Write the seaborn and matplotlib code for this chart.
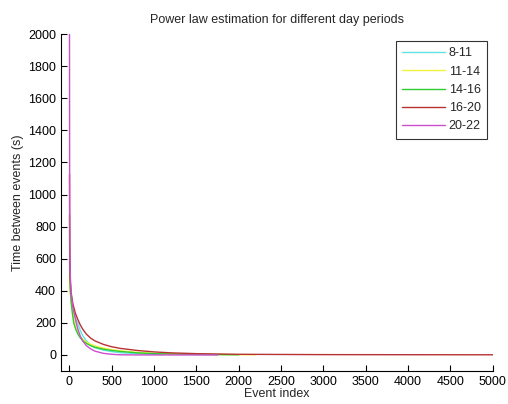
import matplotlib
matplotlib.use("Agg")
import matplotlib.pyplot as plt
import seaborn as sns
import pandas as pd

# ---- data ----
labels = ["8-11", "11-14", "14-16", "16-20", "20-22"]
colors = ["#5fe3e3", "#f2f23a", "#2ecc2e", "#b83232", "#cc4fcc"]

x_8_11 = [1, 3, 8, 20, 40, 70, 100, 130, 160, 200, 250, 300, 400, 500, 600, 800, 1000, 1100]
y_8_11 = [600, 520, 440, 360, 290, 230, 195, 150, 118, 88, 62, 45, 30, 21, 14, 8, 4, 3]

x_11_14 = [1, 3, 8, 20, 40, 60, 80, 100, 130, 160, 200, 250, 300, 400, 500, 600, 800, 1000, 1500, 2200]
y_11_14 = [500, 450, 400, 340, 260, 200, 165, 140, 115, 97, 80, 67, 57, 43, 33, 26, 16, 10, 4, 1]

x_14_16 = [1, 3, 8, 20, 35, 50, 75, 100, 130, 160, 200, 250, 300, 400, 500, 600, 800, 1000, 1500, 2000]
y_14_16 = [875, 600, 420, 330, 260, 200, 160, 130, 105, 88, 72, 58, 48, 36, 28, 22, 13, 8, 3, 1]

x_16_20 = [1, 3, 8, 20, 40, 70, 100, 130, 160, 200, 250, 300, 400, 500, 600, 800, 1000, 1200, 1500, 2000, 3000, 5000]
y_16_20 = [1125, 700, 480, 390, 320, 260, 220, 185, 158, 130, 105, 88, 66, 51, 41, 28, 19, 13, 8, 4, 2, 1]

x_20_22 = [1, 3, 8, 20, 40, 60, 80, 100, 130, 160, 200, 250, 300, 400, 500, 600, 800, 1000, 1750]
y_20_22 = [2000, 900, 520, 380, 300, 250, 200, 160, 115, 85, 58, 38, 24, 10, 4, 1, 0, 0, 0]

xs = [x_8_11, x_11_14, x_14_16, x_16_20, x_20_22]
ys = [y_8_11, y_11_14, y_14_16, y_16_20, y_20_22]

xticks = [0, 500, 1000, 1500, 2000, 2500, 3000, 3500, 4000, 4500, 5000]
yticks = [0, 200, 400, 600, 800, 1000, 1200, 1400, 1600, 1800, 2000]

rows = []
for lab, xv, yv in zip(labels, xs, ys):
    for a, b in zip(xv, yv):
        rows.append({"Event index": a, "Time": b, "Period": lab})
df = pd.DataFrame(rows)

sns.set_style("ticks")
plt.rcParams["font.family"] = ["Liberation Sans", "DejaVu Sans"]

fig = plt.figure(figsize=(5.08, 4.04), dpi=100)
ax = fig.add_axes([0.120, 0.0817, 0.850, 0.834])

sns.lineplot(data=df, x="Event index", y="Time", hue="Period",
             hue_order=labels, palette=colors, linewidth=1.0,
             sort=False, estimator=None, ax=ax, legend=False)

ax.set_xlim(-100, 5000)
ax.set_ylim(-100, 2000)
ax.set_xticks(xticks)
ax.set_yticks(yticks)
ax.tick_params(direction="in", length=4, width=0.8, labelsize=9, colors="black")
for s in ["top", "right"]:
    ax.spines[s].set_visible(False)
for s in ["left", "bottom"]:
    ax.spines[s].set_color("black")
    ax.spines[s].set_linewidth(0.8)

ax.set_xlabel("Event index", fontsize=9, labelpad=0)
ax.set_ylabel("Time between events (s)", fontsize=9, labelpad=3)
ax.set_title("Power law estimation for different day periods", fontsize=9, pad=8)

handles = [plt.Line2D([], [], color=c, lw=1.0) for c in colors]
leg = ax.legend(handles, labels, loc="upper right", bbox_to_anchor=(0.995, 0.99),
                fontsize=9, frameon=True, fancybox=False, handlelength=3.4,
                handletextpad=0.3, labelspacing=0.5, borderpad=0.5,
                borderaxespad=0.3)
leg.get_frame().set_edgecolor("black")
leg.get_frame().set_linewidth(0.8)

fig.savefig("out.png", dpi=100)
